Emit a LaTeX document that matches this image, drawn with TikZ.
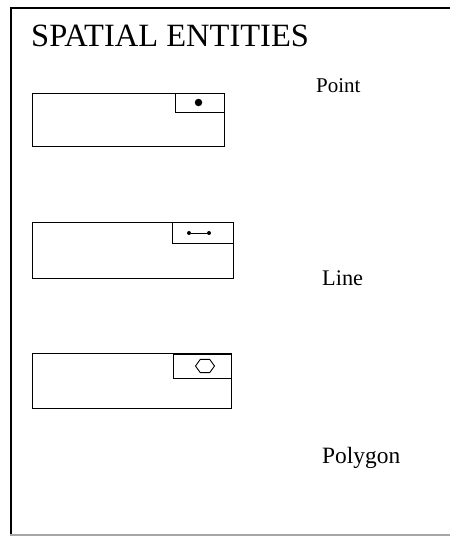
\documentclass[tikz,border=0pt]{standalone}
\usepackage{fontspec}
\setmainfont{Liberation Serif}
\usetikzlibrary{shapes.geometric}
\begin{document}
\begin{tikzpicture}[x=1pt,y=-1pt,
  ent/.style={draw, line width=0.9pt, anchor=north west, inner sep=0pt, outer sep=0pt},
  lbl/.style={anchor=base west, inner sep=0pt},
  vtx/.style={circle, fill=black, inner sep=0pt, minimum size=4pt}]
\useasboundingbox (0,0) rectangle (450,536);
% frame
\draw[line width=2pt] (450,8) -- (10.5,8) -- (10.5,536);
\draw[line width=1.5pt, black!35] (10,535.2) -- (450,535.2);
% title
\node[anchor=base west, inner sep=0pt, font=\fontsize{32.5}{36}\selectfont] (title) at (31,46) {SPATIAL ENTITIES};
% point entity
\node[ent, minimum width=192, minimum height=53] (b1) at (32,93) {};
\node[ent, minimum width=49, minimum height=19] (i1) at (175,93) {};
\node[circle, fill=black, inner sep=0pt, minimum size=7.5pt] (dot) at (198.5,102.5) {};
% line entity
\node[ent, minimum width=201, minimum height=56] (b2) at (32,222) {};
\node[ent, minimum width=61, minimum height=21] (i2) at (172,222) {};
\node[vtx] (l1) at (189,233) {};
\node[vtx] (l2) at (209,233) {};
\draw[line width=0.9pt] (l1) -- (l2);
% polygon entity
\node[ent, minimum width=199, minimum height=55] (b3) at (32,353) {};
\node[ent, minimum width=58, minimum height=24] (i3) at (173,354) {};
\node[regular polygon, regular polygon sides=6, draw, line width=0.9pt, inner sep=0pt, minimum size=19pt, yscale=0.8] (hex) at (205,366) {};
% labels
\node[lbl, font=\fontsize{21}{24}\selectfont] (pt) at (316,92) {Point};
\node[lbl, font=\fontsize{22.3}{24}\selectfont] (ln) at (322,285) {Line};
\node[lbl, font=\fontsize{23.4}{26}\selectfont] (pg) at (322,463) {Polygon};
\end{tikzpicture}
\end{document}
